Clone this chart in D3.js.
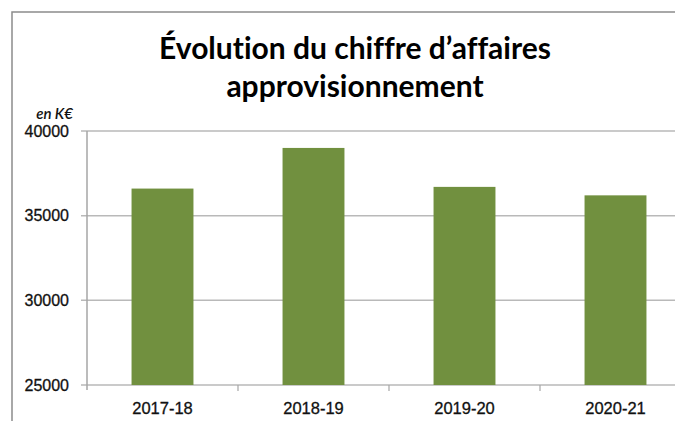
<!DOCTYPE html>
<html>
<head>
<meta charset="utf-8">
<script src="https://cdn.jsdelivr.net/npm/d3@7"></script>
<style>
  body { margin: 0; background: #fff; }
  svg { display: block; font-family: Lato, "Noto Sans", sans-serif; font-variant-ligatures: none; }
</style>
</head>
<body>
<div id="chart"></div>
<script>
// data (K€)
var categories = ["2017-18", "2018-19", "2019-20", "2020-21"];
var values = [36600, 39000, 36700, 36200];
var yTicks = [25000, 30000, 35000, 40000];
var titleLines = ["Évolution du chiffre d’affaires", "approvisionnement"];
var unitLabel = "en K€";

var width = 675, height = 421;
// plot area, the right side runs past the window like in the original
var margin = {top: 131, left: 87, bottom: 36};
var plotRight = 691;

var svg = d3.select("#chart").append("svg")
    .attr("width", width)
    .attr("height", height);

// outer frame of the chart
svg.append("rect")
    .attr("x", 12)
    .attr("y", 12)
    .attr("width", 700)
    .attr("height", 440)
    .attr("fill", "#fff")
    .attr("stroke", "#8c8c8c")
    .attr("stroke-width", 1.5);

var x = d3.scaleBand()
    .domain(categories)
    .range([margin.left, plotRight])
    .paddingInner(0.59)
    .paddingOuter(0.295);

var y = d3.scaleLinear()
    .domain([25000, 40000])
    .range([height - margin.bottom, margin.top]);

// gridlines
svg.append("g")
    .attr("class", "grid")
  .selectAll("line")
    .data(yTicks)
  .enter().append("line")
    .attr("x1", margin.left - 6)
    .attr("x2", plotRight)
    .attr("y1", function(d) { return y(d); })
    .attr("y2", function(d) { return y(d); })
    .attr("stroke", "#b9b9b9")
    .attr("stroke-width", 1.5);

// y axis labels
var yAxis = d3.axisLeft(y)
    .tickValues(yTicks)
    .tickSize(0)
    .tickPadding(18)
    .tickFormat(d3.format("d"));

var gy = svg.append("g")
    .attr("transform", "translate(" + margin.left + ",0)")
    .call(yAxis);
gy.select(".domain").remove();
gy.selectAll("text")
    .attr("fill", "#111")
    .style("font-size", "16px")
    .style("stroke", "#111")
    .style("stroke-width", 0.3);

// vertical axis line
svg.append("line")
    .attr("x1", margin.left)
    .attr("x2", margin.left)
    .attr("y1", y(40000))
    .attr("y2", y(25000) + 5)
    .attr("stroke", "#a6a6a6")
    .attr("stroke-width", 1.5);

// bars
svg.selectAll(".bar")
    .data(values)
  .enter().append("rect")
    .attr("class", "bar")
    .attr("x", function(d, i) { return x(categories[i]); })
    .attr("width", x.bandwidth())
    .attr("y", function(d) { return y(d); })
    .attr("height", function(d) { return y(25000) - y(d); })
    .attr("fill", "#71903f");

// x axis: labels at band centres, small ticks between the bands
var xAxis = d3.axisBottom(x)
    .tickSize(0)
    .tickPadding(17);

var gx = svg.append("g")
    .attr("transform", "translate(0," + y(25000) + ")")
    .call(xAxis);
gx.select(".domain").remove();
gx.selectAll("text")
    .attr("fill", "#111")
    .style("font-size", "16.5px")
    .style("stroke", "#111")
    .style("stroke-width", 0.3);

svg.append("g")
  .selectAll("line")
    .data(categories.slice(1))
  .enter().append("line")
    .attr("x1", function(d) { return x(d) - x.step() * x.paddingInner() / 2; })
    .attr("x2", function(d) { return x(d) - x.step() * x.paddingInner() / 2; })
    .attr("y1", y(25000))
    .attr("y2", y(25000) + 6)
    .attr("stroke", "#a6a6a6")
    .attr("stroke-width", 1.2);

// unit label
svg.append("text")
    .attr("x", 73)
    .attr("y", 119)
    .attr("text-anchor", "end")
    .style("font-size", "15px")
    .style("font-style", "italic")
    .style("font-weight", "600")
    .attr("fill", "#111")
    .text(unitLabel);

// title
svg.append("g")
  .selectAll("text")
    .data(titleLines)
  .enter().append("text")
    .attr("x", 355)
    .attr("y", function(d, i) { return 59 + i * 38; })
    .attr("text-anchor", "middle")
    .style("font-size", "30px")
    .style("font-weight", "700")
    .attr("fill", "#000")
    .text(function(d) { return d; });
</script>
</body>
</html>
